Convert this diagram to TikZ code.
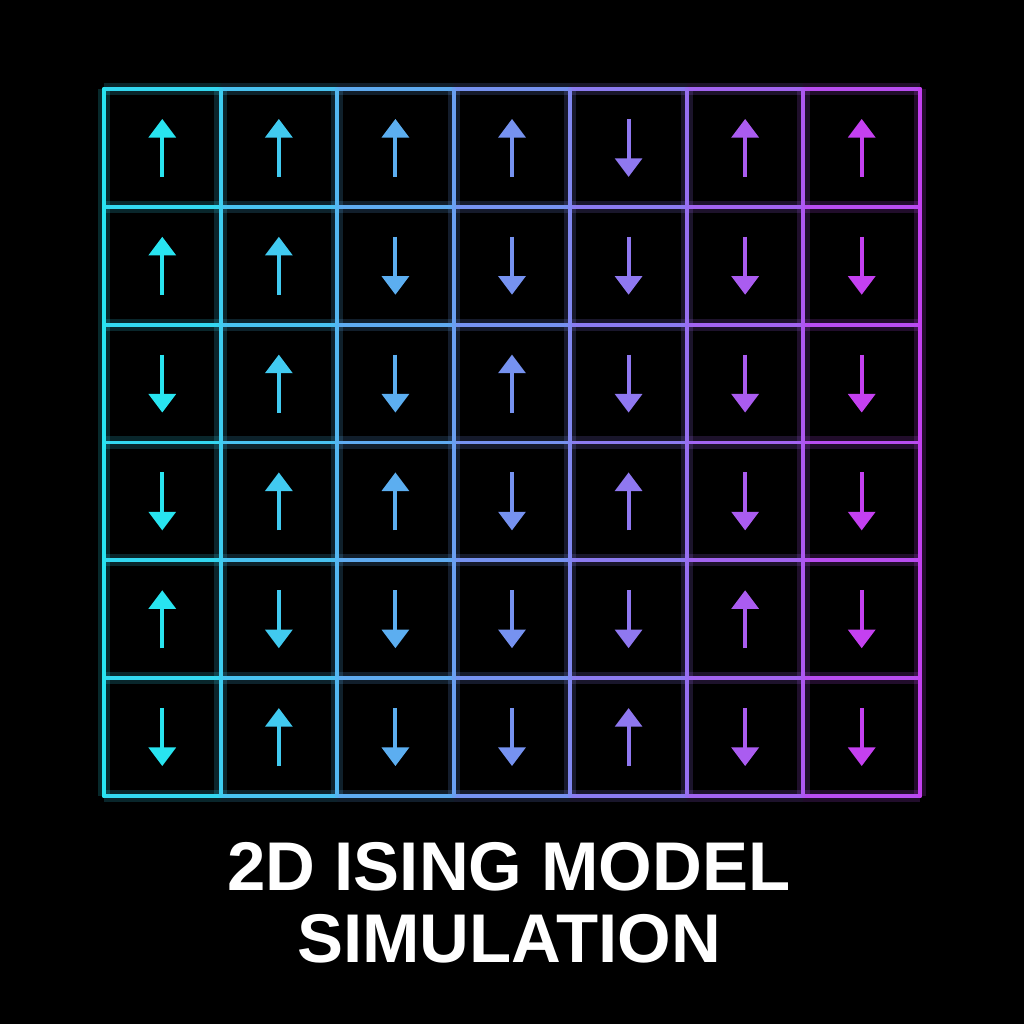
\documentclass[tikz,border=0pt]{standalone}
\usepackage{fontspec}
\setmainfont{Liberation Sans}
\usetikzlibrary{arrows.meta}
\definecolor{spinA}{RGB}{40,228,240}
\definecolor{spinB}{RGB}{196,64,240}

\begin{document}
\begin{tikzpicture}[x=0.01cm,y=-0.01cm]
    %
    \fill[black] (0,0) rectangle (1024,1024);
    \useasboundingbox (0,0) rectangle (1024,1024);

    %
    \tikzset{gridline/.style={line width=1.1pt, line cap=round},
             glow/.style={line width=3.5pt, opacity=0.18},
             spin/.style={line width=1.15pt, -{Triangle[width=7.6pt,length=5.3pt]}},
             title/.style={text=white, font=\bfseries\fontsize{19.6}{21}\selectfont}}
    \def\cw{116.57}
    \def\ch{117.83}

    %
    \foreach \c in {0,...,6} {
        \pgfmathtruncatemacro{\mix}{(\c+0.5)*100/7}
        \foreach \j in {0,...,6} {
            \draw[glow, spinB!\mix!spinA] ({104+\c*\cw},{89+\j*\ch}) -- ({104+(\c+1)*\cw},{89+\j*\ch});
            \draw[gridline, spinB!\mix!spinA] ({104+\c*\cw},{89+\j*\ch}) -- ({104+(\c+1)*\cw},{89+\j*\ch});
        }
    }
    \foreach \i in {0,...,7} {
        \pgfmathtruncatemacro{\mix}{\i*100/7}
        \draw[glow, spinB!\mix!spinA] ({104+\i*\cw},89) -- ({104+\i*\cw},796);
        \draw[gridline, spinB!\mix!spinA] ({104+\i*\cw},89) -- ({104+\i*\cw},796);
    }

    %
    \foreach \row [count=\r from 0] in {{1,1,1,1,0,1,1},{1,1,0,0,0,0,0},{0,1,0,1,0,0,0},
                                        {0,1,1,0,1,0,0},{1,0,0,0,0,1,0},{0,1,0,0,1,0,0}} {
        \foreach \s [count=\c from 0] in \row {
            \pgfmathtruncatemacro{\mix}{\c*100/6}
            \pgfmathsetmacro{\dir}{2*\s-1}
            \coordinate (cell-\r-\c) at ({104+(\c+0.5)*\cw},{89+(\r+0.5)*\ch});
            \draw[spin, spinB!\mix!spinA] ([yshift={-\dir*0.29cm}]cell-\r-\c) -- ([yshift={\dir*0.29cm}]cell-\r-\c);
        }
    }

    %
    \node[title] (title1) at (509,867) {2D ISING MODEL};
    \node[title] (title2) at (509,939) {SIMULATION};

\end{tikzpicture}
\end{document}
